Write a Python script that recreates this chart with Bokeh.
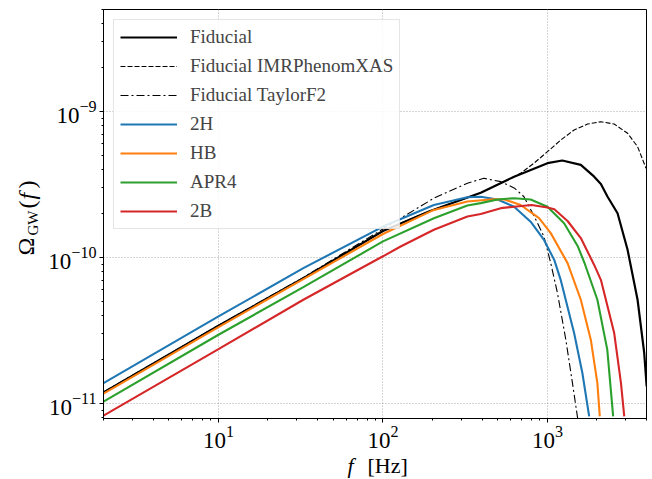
from bokeh.plotting import figure
from bokeh.models import Range1d, FixedTicker
from bokeh.core.properties import value
from bokeh.layouts import row, column
from bokeh.embed import file_html
from bokeh.resources import INLINE

# ---------------- data ----------------
f_fid = [2, 10, 32.8, 100, 190, 393, 627, 1000, 1230, 1595, 1923, 2112, 2320, 2667, 3069, 3530, 3874, 4009]
om_fid = [1.19e-11, 3.41e-11, 7.23e-11, 1.52e-10, 2.07e-10, 2.78e-10, 3.58e-10, 4.43e-10, 4.62e-10,
          4.31e-10, 3.58e-10, 3.19e-10, 2.61e-10, 2.01e-10, 1.13e-10, 5.14e-11, 2.22e-11, 1.31e-11]

f_xas = [2, 10, 32.8, 100, 190, 393, 627, 687, 828, 1000, 1205, 1452, 1753, 2112, 2545, 3069, 3530, 3972]
om_xas = [1.19e-11, 3.41e-11, 7.23e-11, 1.52e-10, 2.07e-10, 2.78e-10, 3.58e-10, 3.78e-10, 4.43e-10,
          5.31e-10, 6.38e-10, 7.48e-10, 8.21e-10, 8.52e-10, 8.21e-10, 7.10e-10, 5.75e-10, 4.09e-10]

f_tf2 = [2, 10, 32.8, 100, 204, 326, 411, 520, 627, 720, 828, 953, 1047, 1150, 1293, 1419, 1530]
om_tf2 = [1.20e-11, 3.43e-11, 7.3e-11, 1.57e-10, 2.55e-10, 3.23e-10, 3.49e-10, 3.31e-10, 3.0e-10,
          2.61e-10, 1.93e-10, 1.39e-10, 9.16e-11, 5.71e-11, 2.74e-11, 1.38e-11, 7.76e-12]

f_2h = [2, 10, 32.8, 100, 204, 326, 393, 497, 627, 790, 953, 1101, 1205, 1452, 1630, 1793]
om_2h = [1.38e-11, 3.95e-11, 8.46e-11, 1.63e-10, 2.29e-10, 2.59e-10, 2.61e-10, 2.5e-10, 2.23e-10,
         1.76e-10, 1.32e-10, 9.6e-11, 7.0e-11, 3.04e-11, 1.62e-11, 8.17e-12]

f_hb = [2, 10, 32.8, 100, 204, 326, 470, 548, 687, 889, 1047, 1325, 1595, 1834, 2011, 2080]
om_hb = [1.17e-11, 3.34e-11, 7.11e-11, 1.45e-10, 2.12e-10, 2.42e-10, 2.51e-10, 2.5e-10, 2.29e-10,
         1.86e-10, 1.47e-10, 9.16e-11, 5.14e-11, 2.74e-11, 1.38e-11, 8.17e-12]

f_apr4 = [2, 10, 32.8, 100, 204, 326, 393, 497, 627, 790, 1000, 1262, 1532, 1690, 2011, 2310, 2508]
om_apr4 = [1.03e-11, 2.96e-11, 6.27e-11, 1.29e-10, 1.86e-10, 2.27e-10, 2.36e-10, 2.5e-10, 2.55e-10,
           2.5e-10, 2.23e-10, 1.72e-10, 1.19e-10, 9.0e-11, 5.14e-11, 2.34e-11, 8.17e-12]

f_2b = [2, 10, 32.8, 100, 128, 204, 326, 393, 520, 627, 800, 1000, 1101, 1325, 1595, 1923, 2112, 2545, 2798, 2930]
om_2b = [8.26e-12, 2.36e-11, 5.14e-11, 1.02e-10, 1.19e-10, 1.55e-10, 1.91e-10, 1.99e-10, 2.18e-10,
         2.23e-10, 2.29e-10, 2.2e-10, 2.14e-10, 1.78e-10, 1.36e-10, 8.9e-11, 7.04e-11, 3.04e-11, 1.38e-11, 8.17e-12]

x_major = [10, 100, 1000]
y_major = [1e-11, 1e-10, 1e-9]

series = [
    ("Fiducial", f_fid, om_fid, "black", 2.2, "solid"),
    ("Fiducial IMRPhenomXAS", f_xas, om_xas, "black", 1.1, "5 2"),
    ("Fiducial TaylorF2", f_tf2, om_tf2, "black", 1.1, "8 3 2 3"),
    ("2H", f_2h, om_2h, "#1f77b4", 2.1, "solid"),
    ("HB", f_hb, om_hb, "#ff7f0e", 2.1, "solid"),
    ("APR4", f_apr4, om_apr4, "#2ca02c", 2.1, "solid"),
    ("2B", f_2b, om_2b, "#d62728", 2.1, "solid"),
]

FONT = "Liberation Serif"
W, H = 652, 479
YW = 42          # width of the strip holding the y title
XH = 27          # height of the strip holding the x title

p = figure(width=W - YW, height=H - XH, x_axis_type="log", y_axis_type="log",
           x_range=Range1d(2, 4000), y_range=Range1d(7.9e-12, 5e-9),
           output_backend="svg", toolbar_location=None,
           min_border_left=103 - YW, min_border_right=6, min_border_top=9,
           min_border_bottom=(H - XH) - 418)

for name, fx, oy, col, lw, dash in series:
    p.line(fx, oy, line_color=col, line_width=lw, line_dash=dash, legend_label=name)

def minors(lo_exp, hi_exp, lo, hi):
    out = []
    for e in range(lo_exp, hi_exp + 1):
        for k in range(2, 10):
            v = k * 10.0 ** e
            if lo <= v <= hi:
                out.append(v)
    return out

p.xaxis.ticker = FixedTicker(ticks=x_major, minor_ticks=minors(0, 3, 2, 4000))
p.yaxis.ticker = FixedTicker(ticks=y_major, minor_ticks=minors(-12, -9, 7.9e-12, 5e-9))

for ax in (p.xaxis[0], p.yaxis[0]):
    ax.major_tick_out = 4
    ax.major_tick_in = 0
    ax.minor_tick_out = 2
    ax.minor_tick_in = 0
    ax.axis_line_color = "black"
    ax.major_tick_line_color = "black"
    ax.minor_tick_line_color = "black"
    ax.major_label_text_font = FONT
    ax.major_label_text_font_size = "23px"
    ax.major_label_text_color = "black"
p.xaxis.major_label_standoff = 3
p.yaxis.major_label_standoff = 3

p.grid.grid_line_color = "#a8a8a8"
p.grid.grid_line_dash = "1 2"
p.grid.grid_line_width = 1
p.outline_line_color = "black"
p.outline_line_width = 1

lg = p.legend[0]
lg.location = "top_left"
lg.margin = 10
lg.padding = 6
lg.spacing = 7
lg.glyph_width = 57
lg.glyph_height = 18
lg.label_height = 18
lg.label_standoff = 13
lg.label_text_font = FONT
lg.label_text_font_size = "19px"
lg.border_line_color = "#cccccc"
lg.border_line_width = 1
lg.background_fill_alpha = 0.85

# Title strips; their ranges are set so that data units equal page pixels.
def strip(w, h, xr, yr):
    f = figure(width=w, height=h, x_range=xr, y_range=yr,
               x_axis_location=None, y_axis_location=None, min_border=0, title=None,
               output_backend="svg", toolbar_location=None)
    f.grid.visible = False
    f.outline_line_color = None
    return f

def txt(fig, text, x, y, size, style="normal", angle=0):
    fig.text(x=[x], y=[y], text=[text], text_font=value(FONT), text_font_size=size,
             text_font_style=style, text_align="left", text_baseline="alphabetic",
             angle=angle, angle_units="deg", text_color="black")

# y title (rotated), page x 0..YW, page y 0..H
ys = strip(YW, H, Range1d(0, YW), Range1d(H, 0))
txt(ys, "\u03a9", 25, 255, "24px", angle=90)
txt(ys, "GW", 32, 235, "15px", angle=90)
txt(ys, "(", 26, 208, "24px", angle=90)
txt(ys, "f", 26, 199, "24px", style="italic", angle=90)
txt(ys, ")", 26, 188, "24px", angle=90)

# x title; this strip's frame is aligned with the main frame (page x 103..646)
xs = strip(W - YW, XH, Range1d(103, 646), Range1d(H, H - XH))
txt(xs, "f", 347, 465, "22px", style="italic")
txt(xs, "[Hz]", 367, 465, "22px")

layout = row(ys, column(p, xs, spacing=0), spacing=0)
open("out.html", "w").write(file_html(layout, INLINE))
